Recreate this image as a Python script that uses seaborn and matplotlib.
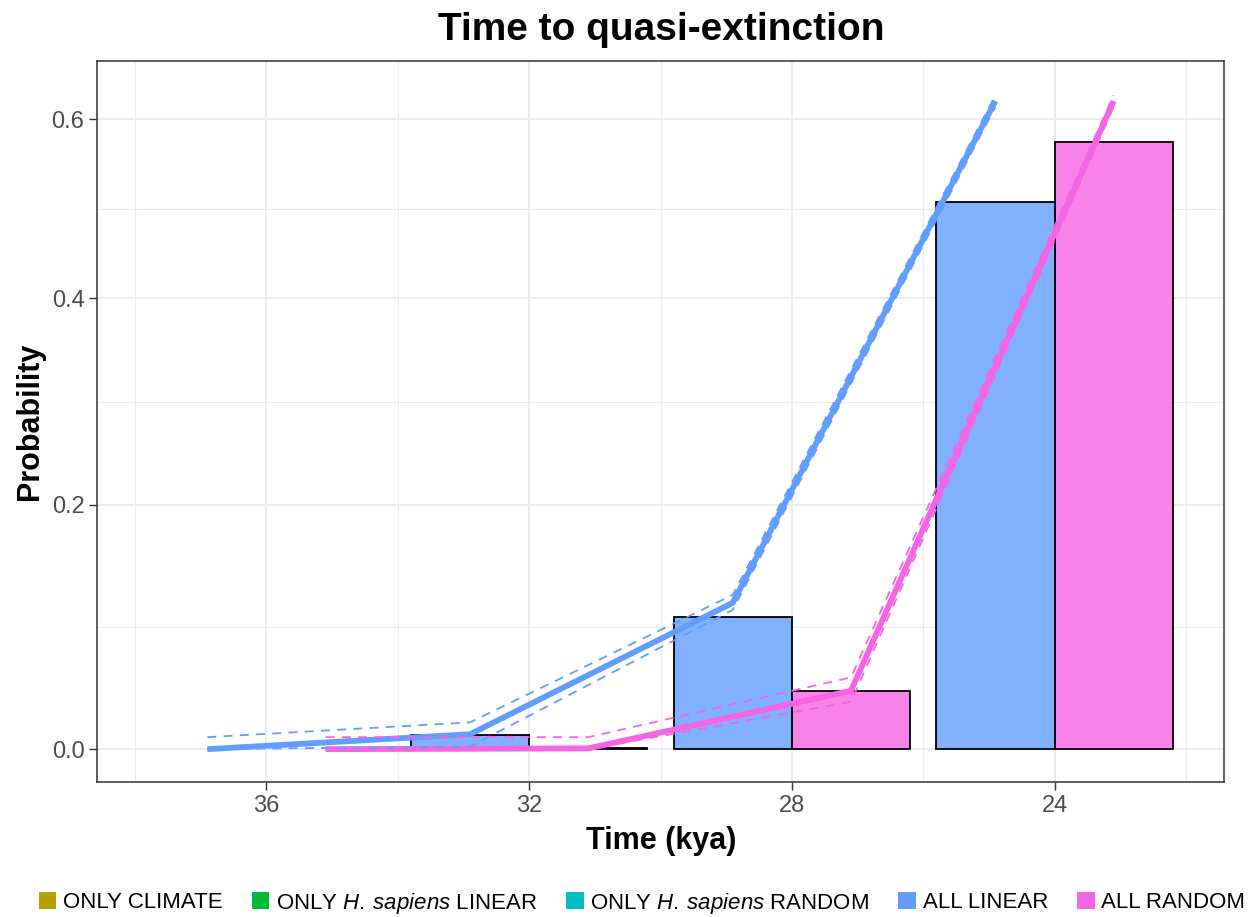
import numpy as np
import pandas as pd
import matplotlib
matplotlib.use("Agg")
import matplotlib.pyplot as plt
import seaborn as sns
from matplotlib.patches import Patch
from matplotlib.colors import to_rgb

# ---- data -------------------------------------------------------------
scenarios = ["ONLY CLIMATE", "ONLY H. sapiens LINEAR", "ONLY H. sapiens RANDOM",
             "ALL LINEAR", "ALL RANDOM"]
legend_labels = ["ONLY CLIMATE",
                 r"ONLY $\mathit{H.\:sapiens}$ LINEAR",
                 r"ONLY $\mathit{H.\:sapiens}$ RANDOM",
                 "ALL LINEAR", "ALL RANDOM"]
scenario_colors = ["#B79F00", "#00BA38", "#00BFC4", "#619CFF", "#F564E3"]

# probability of quasi-extinction per time bin (kya)
bar_times = [32, 28, 24]
prob_all_linear = [0.011, 0.104, 0.504]
prob_all_random = [0.0006, 0.044, 0.573]

# cumulative probability with lower / upper bounds
curve_times = [36, 32, 28, 24]
cum_all_linear = [0.0, 0.0112, 0.1154, 0.622]
cum_all_linear_lo = [0.0, 0.002, 0.1095, 0.615]
cum_all_linear_hi = [0.009, 0.0202, 0.122, 0.629]
cum_all_random = [0.0, 0.0006, 0.0445, 0.622]
cum_all_random_lo = [0.0, 0.0, 0.036, 0.615]
cum_all_random_hi = [0.009, 0.009, 0.055, 0.629]

x_ticks = [36, 32, 28, 24]
x_minor = [38, 34, 30, 26, 22]
y_ticks = [0.0, 0.2, 0.4, 0.6]
y_ticklabels = ["0.0", "0.2", "0.4", "0.6"]

# ---- style ------------------------------------------------------------
sns.set_theme(style="white")
plt.rcParams["font.family"] = ["Liberation Sans", "DejaVu Sans"]
plt.rcParams["mathtext.fontset"] = "custom"
plt.rcParams["mathtext.rm"] = "Liberation Sans"
plt.rcParams["mathtext.it"] = "Liberation Sans:italic"
plt.rcParams["text.color"] = "black"

color_of = dict(zip(scenarios, scenario_colors))


def faded(c, a=0.8):
    r, g, b = to_rgb(c)
    return (a * r + 1 - a, a * g + 1 - a, a * b + 1 - a)


bars = pd.DataFrame({
    "time": bar_times * 2,
    "prob": prob_all_linear + prob_all_random,
    "scenario": ["ALL LINEAR"] * len(bar_times) + ["ALL RANDOM"] * len(bar_times),
})

# curves sit at the centre of each dodged bar
dodge = {"ALL LINEAR": 0.9, "ALL RANDOM": -0.9}
curves = pd.DataFrame({
    "time": curve_times * 2,
    "scenario": ["ALL LINEAR"] * len(curve_times) + ["ALL RANDOM"] * len(curve_times),
    "mid": cum_all_linear + cum_all_random,
    "lo": cum_all_linear_lo + cum_all_random_lo,
    "hi": cum_all_linear_hi + cum_all_random_hi,
})
curves["x"] = curves["time"] + curves["scenario"].map(dodge)

fig = plt.figure(figsize=(12.51, 9.17), dpi=100)
ax = fig.add_axes([97 / 1251, 1 - 782 / 917, (1224 - 97) / 1251, (782 - 61) / 917])

sns.barplot(data=bars, x="time", y="prob", hue="scenario",
            hue_order=["ALL RANDOM", "ALL LINEAR"],
            palette={k: faded(color_of[k]) for k in ["ALL LINEAR", "ALL RANDOM"]},
            native_scale=True, width=0.9, errorbar=None, saturation=1,
            edgecolor="black", linewidth=1.3, legend=False, ax=ax, zorder=2)

line_pal = {k: color_of[k] for k in ["ALL LINEAR", "ALL RANDOM"]}
sns.lineplot(data=curves, x="x", y="mid", hue="scenario", palette=line_pal,
             hue_order=["ALL LINEAR", "ALL RANDOM"], estimator=None, sort=False,
             linewidth=4.2, solid_capstyle="butt", legend=False, ax=ax, zorder=3)
for col in ["lo", "hi"]:
    sns.lineplot(data=curves, x="x", y=col, hue="scenario", palette=line_pal,
                 hue_order=["ALL LINEAR", "ALL RANDOM"], estimator=None, sort=False,
                 linewidth=1.3, linestyle=(0, (5, 4)), legend=False, ax=ax, zorder=4)

# log(1 + p) scale on the probability axis
ax.set_yscale("function", functions=(np.log1p, np.expm1))
ax.set_ylim(np.expm1(-0.0245), np.expm1(0.5135))
ax.set_xlim(38.58, 21.42)

ax.set_xticks(x_ticks)
ax.set_xticklabels([str(t) for t in x_ticks])
ax.set_xticks(x_minor, minor=True)
ax.set_yticks(y_ticks)
ax.set_yticklabels(y_ticklabels)
t = np.log1p(y_ticks)
ax.set_yticks(np.expm1((t[:-1] + t[1:]) / 2), minor=True)

ax.set_axisbelow(True)
ax.grid(True, which="major", color="#EBEBEB", linewidth=1.3, zorder=0)
ax.grid(True, which="minor", color="#EBEBEB", linewidth=0.8, zorder=0)
ax.tick_params(which="major", length=5.5, width=1.0, color="#333333",
               labelsize=17, labelcolor="#4D4D4D", pad=3.5,
               bottom=True, left=True)
ax.tick_params(which="minor", length=0)
for s in ax.spines.values():
    s.set_color("#333333")
    s.set_linewidth(1.1)
    s.set_visible(True)

ax.set_xlabel("")
ax.set_ylabel("")
fig.text(661 / 1251, 1 - 841 / 917, "Time (kya)", ha="center", va="center",
         fontsize=22, fontweight="bold", color="black")
fig.text(30 / 1251, 1 - 421 / 917, "Probability", ha="center", va="center",
         rotation=90, fontsize=22, fontweight="bold", color="black")
fig.text(661 / 1251, 1 - 30 / 917, "Time to quasi-extinction", ha="center",
         va="center", fontsize=28, fontweight="bold", color="black")

handles = [Patch(facecolor=c, edgecolor="none") for c in scenario_colors]
fig.legend(handles, legend_labels, loc="center", ncol=5,
           bbox_to_anchor=(642 / 1251, 1 - 903 / 917), frameon=False,
           fontsize=16, handlelength=0.8, handleheight=0.8,
           handletextpad=0.3, columnspacing=1.3, borderpad=0,
           labelcolor="black")

fig.savefig("out.png", dpi=100)
